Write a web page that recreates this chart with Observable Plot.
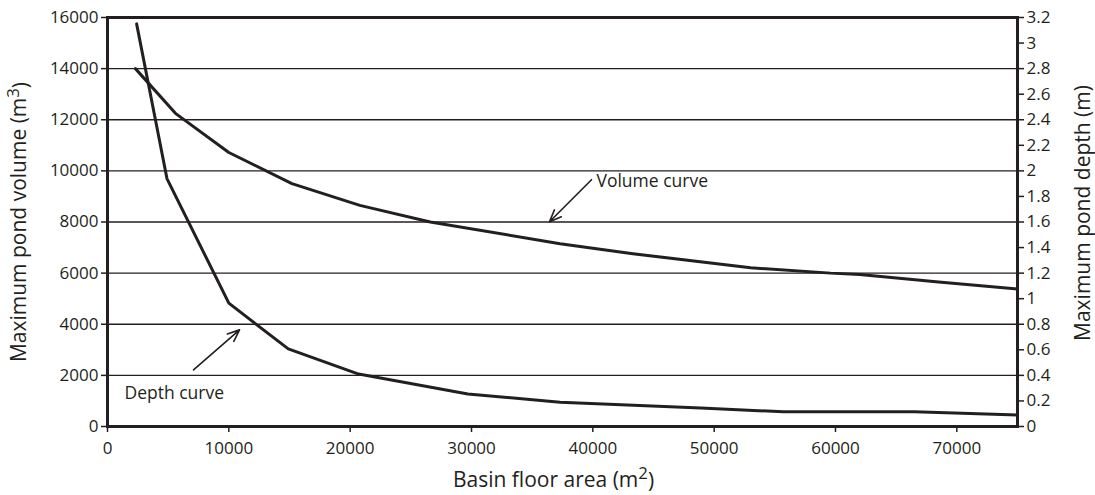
<!DOCTYPE html>
<html>
<head>
<meta charset="utf-8">
<script src="https://cdn.jsdelivr.net/npm/d3@7"></script>
<script src="https://cdn.jsdelivr.net/npm/@observablehq/plot@0.6"></script>
<style>
  body { margin: 0; background: #fff; }
  #chart svg { display: block; }
</style>
</head>
<body>
<div id="chart"></div>
<script>
// Volume curve: basin floor area (m2) vs maximum pond volume (m3)
const volumeArea = [2300, 5600, 10000, 15200, 20800, 26600, 37300, 43300, 53000, 59600, 62000, 68500, 75000];
const volumeValues = [14000, 12250, 10720, 9500, 8650, 8000, 7150, 6760, 6210, 6000, 5950, 5650, 5380];

// Depth curve: basin floor area (m2) vs maximum pond depth (m)
const depthArea = [2400, 4900, 10000, 14900, 20700, 29700, 37300, 48900, 55700, 66500, 75000];
const depthValues = [3.15, 1.94, 0.965, 0.607, 0.41, 0.255, 0.19, 0.145, 0.115, 0.115, 0.09];

// Axis ticks
const xTicks = [0, 10000, 20000, 30000, 40000, 50000, 60000, 70000];
const volumeTicks = [0, 2000, 4000, 6000, 8000, 10000, 12000, 14000, 16000];
const depthTicks = [0, 0.2, 0.4, 0.6, 0.8, 1, 1.2, 1.4, 1.6, 1.8, 2, 2.2, 2.4, 2.6, 2.8, 3, 3.2];
const depthMax = 3.2;
const volumeMax = 16000;
const areaMax = 75000;

// Annotations
const annoLabels = ["Volume curve", "Depth curve"];
const annoTextX = [40300, 1400];
const annoTextY = [9580, 1310];
const annoFromX = [39890, 7090];
const annoFromY = [9655, 2213];
const annoToX = [36430, 10880];
const annoToY = [8010, 3780];

const k = volumeMax / depthMax; // depth -> volume axis scaling
const volumeData = volumeArea.map((a, i) => ({area: a, v: volumeValues[i]}));
const depthData = depthArea.map((a, i) => ({area: a, v: depthValues[i] * k}));
const annos = annoLabels.map((t, i) => ({
  text: t, tx: annoTextX[i], ty: annoTextY[i],
  x1: annoFromX[i], y1: annoFromY[i], x2: annoToX[i], y2: annoToY[i]
}));

const ink = "#231f20";
const font = "'Open Sans', sans-serif";

const chart = Plot.plot({
  width: 1095,
  height: 495,
  marginLeft: 107,
  marginRight: 78,
  marginTop: 17,
  marginBottom: 69,
  style: {fontFamily: font, color: ink, background: "#fff"},
  x: {domain: [0, areaMax]},
  y: {domain: [0, volumeMax]},
  marks: [
    Plot.ruleY(volumeTicks.filter(d => d > 0 && d < volumeMax), {stroke: ink, strokeWidth: 1.4}),
    Plot.axisX(xTicks, {
      tickSize: 6, tickPadding: 9, stroke: ink, strokeWidth: 1.5,
      tickFormat: d3.format("d"),
      label: "Basin floor area (m²)", labelAnchor: "center", labelOffset: 60, labelArrow: "none"
    }),
    Plot.axisY(volumeTicks, {
      anchor: "left", tickSize: 6, tickPadding: 3, stroke: ink, strokeWidth: 1.5,
      tickFormat: d3.format("d"),
      label: "Maximum pond volume (m³)", labelAnchor: "center", labelOffset: 96, labelArrow: "none"
    }),
    Plot.axisY(depthTicks.map(d => d * k), {
      anchor: "right", tickSize: 6, tickPadding: 3, stroke: ink, strokeWidth: 1.5,
      tickFormat: d => String(+(d / k).toFixed(1)),
      label: "Maximum pond depth (m)", labelAnchor: "center", labelOffset: 72, labelArrow: "none"
    }),
    Plot.line(volumeData, {x: "area", y: "v", stroke: ink, strokeWidth: 3, strokeLinejoin: "round"}),
    Plot.line(depthData, {x: "area", y: "v", stroke: ink, strokeWidth: 3, strokeLinejoin: "round"}),
    Plot.arrow(annos, {x1: "x1", y1: "y1", x2: "x2", y2: "y2", stroke: ink, strokeWidth: 1.6, headLength: 12, headAngle: 45}),
    Plot.text(annos, {x: "tx", y: "ty", text: "text", textAnchor: "start", fill: ink,
      fontFamily: font, fontSize: 17.5}),
    Plot.frame({stroke: ink, strokeWidth: 3})
  ]
});

const root = d3.select(chart);
root.selectAll('g[aria-label$="axis tick label"] text').style("font-size", "17px");
root.selectAll('g[aria-label$="axis label"] text').style("font-size", "21px");
root.selectAll('g[aria-label="x-axis label"] text').attr("dx", -9);
root.selectAll('g[aria-label="y-axis label"] text').each(function () {
  if (this.textContent.includes("depth")) d3.select(this).attr("dx", 9);
});

// Render superscripts in axis titles as real raised text
root.selectAll("text").each(function () {
  const t = this.textContent;
  const m = t.match(/^(.*\(m)([²³])(\))$/);
  if (m && this.childElementCount === 0) {
    const sup = m[2] === "²" ? "2" : "3";
    const sel = d3.select(this);
    sel.text(null);
    sel.append("tspan").text(m[1]);
    sel.append("tspan").attr("dy", "-0.45em").attr("font-size", "0.8em").text(sup);
    sel.append("tspan").attr("dy", "0.45em").text(m[3]);
  }
});

document.getElementById("chart").appendChild(chart);
</script>
</body>
</html>
